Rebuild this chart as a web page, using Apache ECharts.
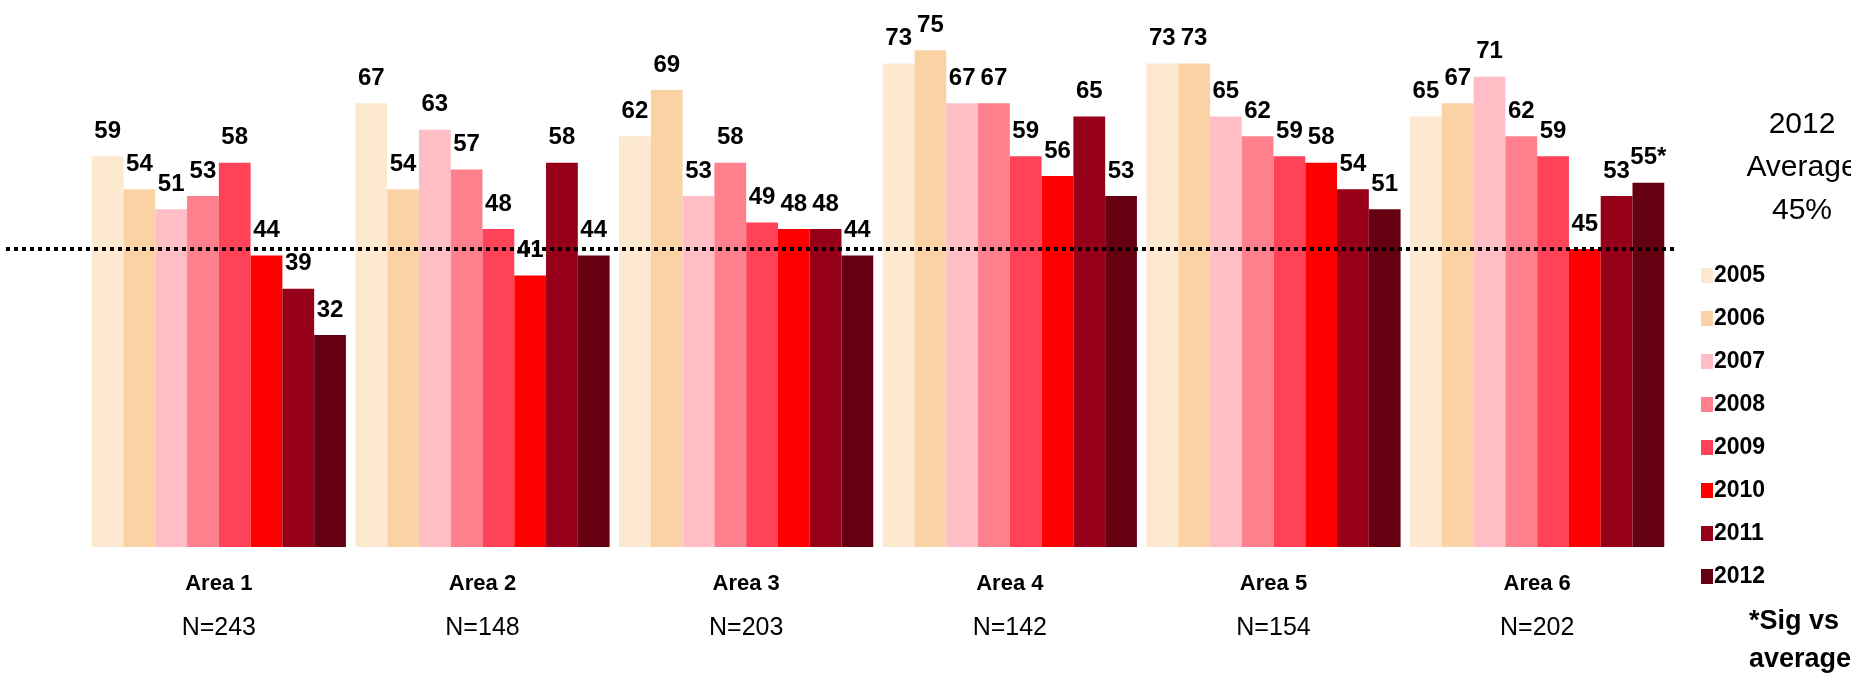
<!DOCTYPE html>
<html>
<head>
<meta charset="utf-8">
<script src="https://cdn.jsdelivr.net/npm/echarts@6/dist/echarts.min.js"></script>
<style>
  html, body { margin: 0; padding: 0; background: #fff; }
  #main { width: 1851px; height: 675px; }
</style>
</head>
<body>
<div id="main"></div>
<script>
  // data
  var areas = ['Area 1', 'Area 2', 'Area 3', 'Area 4', 'Area 5', 'Area 6'];
  var sampleSizes = ['N=243', 'N=148', 'N=203', 'N=142', 'N=154', 'N=202'];
  var years = ['2005', '2006', '2007', '2008', '2009', '2010', '2011', '2012'];
  var colors = ['#FDE8D0', '#FAD2A3', '#FFBDC6', '#FF808D', '#FF4257', '#FF0000', '#960018', '#650010'];
  var v2005 = [59, 67, 62, 73, 73, 65];
  var v2006 = [54, 54, 69, 75, 73, 67];
  var v2007 = [51, 63, 53, 67, 65, 71];
  var v2008 = [53, 57, 58, 67, 62, 62];
  var v2009 = [58, 48, 49, 59, 59, 59];
  var v2010 = [44, 41, 48, 56, 58, 45];
  var v2011 = [39, 58, 48, 65, 54, 53];
  var v2012 = [32, 44, 44, 53, 51, 55];
  var sig2012 = ['', '', '', '', '', '*'];
  var average2012 = 45;

  var values = [v2005, v2006, v2007, v2008, v2009, v2010, v2011, v2012];

  var myChart = echarts.init(document.getElementById('main'));

  var font = 'Liberation Sans, Arial, sans-serif';

  var series = years.map(function (y, i) {
    return {
      name: y,
      type: 'bar',
      barGap: 0,
      barCategoryGap: '3.6%',
      itemStyle: { color: colors[i] },
      label: {
        show: true,
        position: 'top',
        distance: 13,
        fontFamily: font,
        fontWeight: 'bold',
        fontSize: 24,
        color: '#000',
        formatter: function (p) {
          return i === 7 ? p.value + sig2012[p.dataIndex] : p.value;
        }
      },
      data: values[i]
    };
  });

  // average line, drawn on a wider overlay grid sharing the same y scale
  series.push({
    name: 'avg',
    type: 'line',
    xAxisIndex: 1,
    yAxisIndex: 1,
    symbol: 'none',
    silent: true,
    lineStyle: { color: '#000', width: 4, type: [4, 4] },
    data: [[0, average2012], [1, average2012]]
  });

  var option = {
    animation: false,
    grid: [
      { left: 87, right: 182, top: 17, bottom: 128 },
      { left: 6, right: 175, top: 17, bottom: 128 }
    ],
    legend: {
      data: years,
      orient: 'vertical',
      left: 1696,
      top: 259,
      itemWidth: 12,
      itemHeight: 15,
      itemGap: 20,
      icon: 'rect',
      textStyle: { fontFamily: font, fontWeight: 'bold', fontSize: 23, color: '#000', lineHeight: 20, padding: [0, 0, 0, -4] }
    },
    xAxis: [{
      type: 'category',
      data: areas,
      axisLine: { show: false },
      axisTick: { show: false },
      axisLabel: {
        interval: 0,
        margin: 15,
        formatter: function (v, idx) {
          return '{a|' + v + '}\n{b|' + sampleSizes[idx] + '}';
        },
        rich: {
          a: { fontFamily: font, fontWeight: 'bold', fontSize: 22, color: '#000', lineHeight: 44 },
          b: { fontFamily: font, fontSize: 25, color: '#000', lineHeight: 44 }
        }
      }
    }, {
      type: 'value',
      gridIndex: 1,
      min: 0,
      max: 1,
      show: false
    }],
    yAxis: [{
      type: 'value',
      min: 0,
      max: 80,
      show: false
    }, {
      type: 'value',
      gridIndex: 1,
      min: 0,
      max: 80,
      show: false
    }],
    graphic: [{
      type: 'text',
      x: 1802,
      y: 103,
      style: {
        text: '2012\nAverage\n45%',
        align: 'center',
        fontFamily: font,
        fontSize: 30,
        lineHeight: 43,
        fill: '#000'
      }
    }, {
      type: 'text',
      x: 1749,
      y: 603,
      style: {
        text: '*Sig vs\naverage',
        fontFamily: font,
        fontWeight: 'bold',
        fontSize: 27,
        lineHeight: 38,
        fill: '#000'
      }
    }],
    series: series
  };

  myChart.setOption(option);
</script>
</body>
</html>
